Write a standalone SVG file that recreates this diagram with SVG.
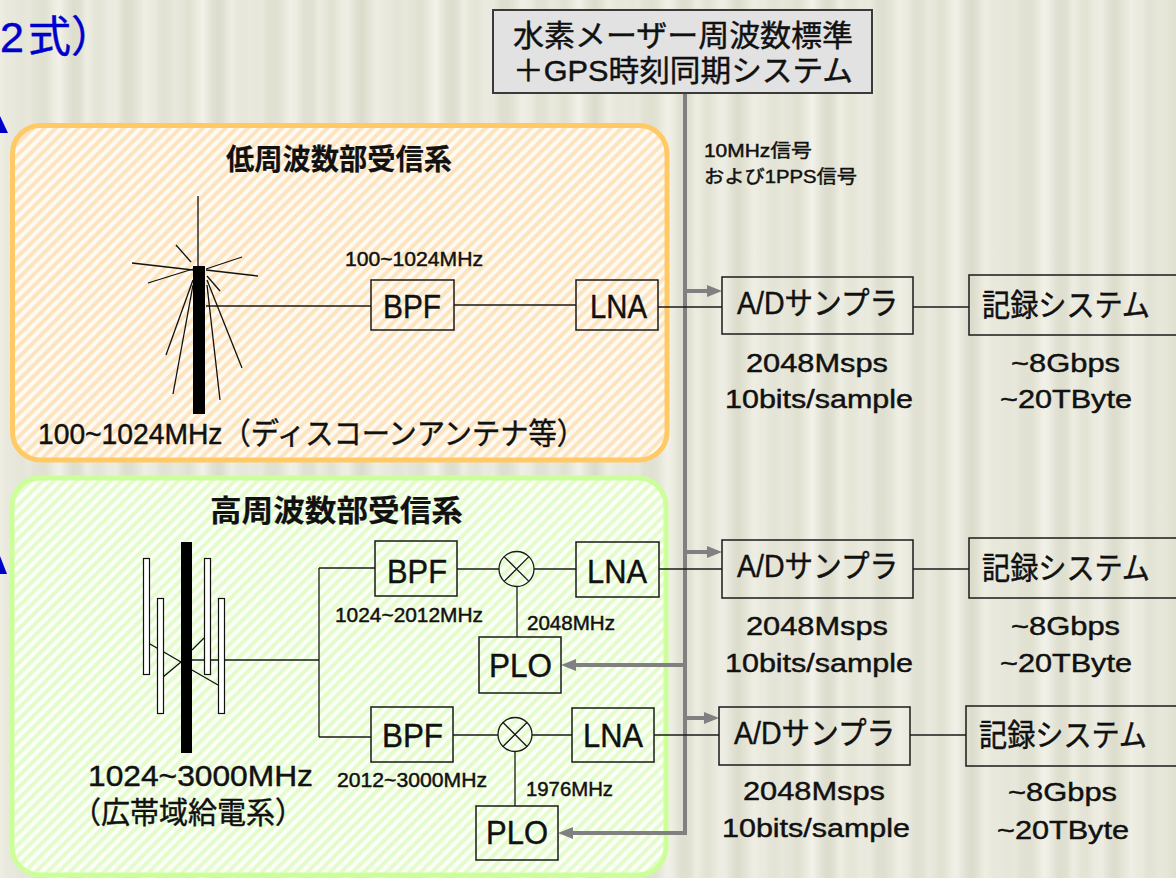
<svg xmlns="http://www.w3.org/2000/svg" width="1176" height="878" viewBox="0 0 1176 878">
  <defs>
    <style>
      .t { font-family: "Liberation Sans", "Noto Sans CJK JP", sans-serif; fill: #111; stroke: #111; stroke-width: 0.45; }
      .hd { font-weight: 700; stroke-width: 0.2; }
      .box { fill: none; stroke: #1a1a1a; stroke-width: 1.5; }
      .wire { fill: none; stroke: #1a1a1a; stroke-width: 1.3; }
      .sig { fill: none; stroke: #808080; stroke-width: 4; }
      .mix { fill: none; stroke: #1a1a1a; stroke-width: 1.3; }
    </style>
    <pattern id="hatchOrange" width="8" height="8" patternUnits="userSpaceOnUse" patternTransform="rotate(45)">
      <rect width="8" height="8" fill="#fffaf1"/>
      <rect width="4" height="8" fill="#fde4c0"/>
    </pattern>
    <pattern id="hatchGreen" width="8" height="8" patternUnits="userSpaceOnUse" patternTransform="rotate(45)">
      <rect width="8" height="8" fill="#fbfff6"/>
      <rect width="4" height="8" fill="#e4fbce"/>
    </pattern>
    <linearGradient id="streakA" gradientUnits="userSpaceOnUse" x1="0" y1="0" x2="29" y2="0" spreadMethod="repeat">
      <stop offset="0" stop-color="#ffffff" stop-opacity="0.3"/>
      <stop offset="0.5" stop-color="#c4c4b0" stop-opacity="0.18"/>
      <stop offset="1" stop-color="#ffffff" stop-opacity="0.3"/>
    </linearGradient>
    <linearGradient id="streakB" gradientUnits="userSpaceOnUse" x1="0" y1="0" x2="47" y2="0" spreadMethod="repeat">
      <stop offset="0" stop-color="#ffffff" stop-opacity="0"/>
      <stop offset="0.3" stop-color="#ffffff" stop-opacity="0.25"/>
      <stop offset="0.7" stop-color="#b8b8a4" stop-opacity="0.12"/>
      <stop offset="1" stop-color="#ffffff" stop-opacity="0"/>
    </linearGradient>
    <marker id="arrowGray" markerUnits="userSpaceOnUse" markerWidth="16" markerHeight="14" refX="5" refY="6" orient="auto">
      <path d="M0,0 L15,6 L0,12 Z" fill="#808080"/>
    </marker>
  </defs>

  <!-- paper background -->
  <rect width="1176" height="878" fill="#e7e7d8"/>
  <rect width="1176" height="878" fill="url(#streakA)"/>
  <rect width="1176" height="878" fill="url(#streakB)"/>

  <!-- heading fragment and bullets -->
  <text class="t" x="0" y="52" font-size="43" style="fill:#0000cc;stroke:#0000cc">2<tspan dx="4">式）</tspan></text>
  <polygon points="0,116 8,133 0,133" fill="#0000cc"/>
  <polygon points="0,556 7,574 0,574" fill="#0000cc"/>

  <!-- receiver panels -->
  <g id="panel-low">
    <rect x="12.5" y="125.5" width="654.5" height="334.5" rx="28" fill="url(#hatchOrange)" stroke="#ffc966" stroke-width="5"/>
    <text class="t hd" x="226" y="170" font-size="29" textLength="226" lengthAdjust="spacingAndGlyphs">低周波数部受信系</text>
    <text class="t" x="38" y="444" font-size="30" textLength="547" lengthAdjust="spacingAndGlyphs">100~1024MHz（ディスコーンアンテナ等）</text>
  </g>
  <g id="panel-high">
    <rect x="12" y="478" width="654" height="397" rx="28" fill="url(#hatchGreen)" stroke="#ccff99" stroke-width="5"/>
    <text class="t hd" x="210" y="521" font-size="30" textLength="253" lengthAdjust="spacingAndGlyphs">高周波数部受信系</text>
    <text class="t" x="88" y="786" font-size="30" textLength="225" lengthAdjust="spacingAndGlyphs">1024~3000MHz</text>
    <text class="t" x="72" y="823" font-size="30" textLength="232" lengthAdjust="spacingAndGlyphs">（広帯域給電系）</text>
  </g>

  <!-- connectors -->
  <g id="connectors">
    <!-- reference distribution -->
    <path class="sig" d="M685,93 V833 H568" marker-end="url(#arrowGray)"/>
    <path class="sig" d="M685,291 H712" marker-end="url(#arrowGray)"/>
    <path class="sig" d="M685,552 H712" marker-end="url(#arrowGray)"/>
    <path class="sig" d="M685,718 H709" marker-end="url(#arrowGray)"/>
    <path class="sig" d="M685,665 H571" marker-end="url(#arrowGray)"/>
    <!-- low band chain -->
    <path class="wire" d="M206,306 H371"/>
    <path class="wire" d="M454,305 H576"/>
    <path class="wire" d="M658,307 H722"/>
    <path class="wire" d="M913,307 H969"/>
    <!-- high band split -->
    <path class="wire" d="M192,660 H319"/>
    <path class="wire" d="M319,568 V737"/>
    <path class="wire" d="M319,568 H375"/>
    <path class="wire" d="M319,737 H371"/>
    <!-- upper high branch -->
    <path class="wire" d="M457,569 H499"/>
    <path class="wire" d="M534,569 H576"/>
    <path class="wire" d="M659,569 H722"/>
    <path class="wire" d="M913,569 H969"/>
    <path class="wire" d="M517,586.5 V637"/>
    <!-- lower high branch -->
    <path class="wire" d="M453,735 H498"/>
    <path class="wire" d="M532,735 H572"/>
    <path class="wire" d="M654,735 H719"/>
    <path class="wire" d="M910,735 H966"/>
    <path class="wire" d="M515,752 V806"/>
  </g>

  <!-- reference source -->
  <g id="ref-source">
    <rect x="493" y="10" width="379" height="83" fill="#e2e2e2" stroke="#3a3a3a" stroke-width="2"/>
    <text class="t" x="513" y="46" font-size="30" textLength="340" lengthAdjust="spacingAndGlyphs">水素メーザー周波数標準</text>
    <text class="t" x="513" y="81" font-size="30" textLength="340" lengthAdjust="spacingAndGlyphs">＋GPS時刻同期システム</text>
  </g>
  <g id="ref-label">
    <text class="t" x="704" y="157" font-size="18" textLength="108" lengthAdjust="spacingAndGlyphs">10MHz信号</text>
    <text class="t" x="704" y="183" font-size="18" textLength="153" lengthAdjust="spacingAndGlyphs">および1PPS信号</text>
  </g>

  <!-- discone antenna -->
  <g id="antenna-discone" stroke="#111" stroke-width="1.3">
    <line x1="198" y1="196" x2="198" y2="266"/>
    <line x1="132" y1="263" x2="193" y2="270"/>
    <line x1="206" y1="270" x2="258" y2="276"/>
    <line x1="148" y1="283" x2="193" y2="269"/>
    <line x1="206" y1="269" x2="242" y2="257"/>
    <line x1="176" y1="245" x2="191" y2="262"/>
    <line x1="207" y1="276" x2="220" y2="291"/>
    <line x1="193" y1="280" x2="166" y2="355"/>
    <line x1="193" y1="285" x2="173" y2="394"/>
    <line x1="207" y1="280" x2="242" y2="368"/>
    <line x1="207" y1="285" x2="220" y2="400"/>
    <rect x="193" y="266" width="12" height="148" fill="#000" stroke="none"/>
  </g>

  <!-- broadband antenna -->
  <g id="antenna-broadband" stroke="#111" stroke-width="1.3">
    <line x1="150" y1="644" x2="181" y2="662"/>
    <line x1="163" y1="677" x2="181" y2="662"/>
    <line x1="192" y1="650" x2="204" y2="638"/>
    <line x1="192" y1="670" x2="218" y2="685"/>
    <rect x="143.5" y="558.5" width="6" height="116" fill="#fff" stroke-width="1.2"/>
    <rect x="157.5" y="598.5" width="6" height="115" fill="#fff" stroke-width="1.2"/>
    <rect x="204.5" y="558.5" width="6" height="116" fill="#fff" stroke-width="1.2"/>
    <rect x="218.5" y="598.5" width="6" height="115" fill="#fff" stroke-width="1.2"/>
    <rect x="181" y="542" width="11" height="211" fill="#000" stroke="none"/>
  </g>

  <!-- low band blocks -->
  <g id="bpf-low">
    <rect class="box" x="371" y="280" width="83" height="50"/>
    <text class="t" x="383" y="318" font-size="34" textLength="58" lengthAdjust="spacingAndGlyphs">BPF</text>
    <text class="t" x="345" y="266" font-size="20" textLength="138" lengthAdjust="spacingAndGlyphs">100~1024MHz</text>
  </g>
  <g id="lna-low">
    <rect class="box" x="576" y="280" width="82" height="50"/>
    <text class="t" x="590" y="318" font-size="34" textLength="57" lengthAdjust="spacingAndGlyphs">LNA</text>
  </g>

  <!-- upper high band blocks -->
  <g id="bpf-high1">
    <rect class="box" x="375" y="541" width="82" height="55"/>
    <text class="t" x="387" y="583" font-size="34" textLength="60" lengthAdjust="spacingAndGlyphs">BPF</text>
    <text class="t" x="335" y="622" font-size="20" textLength="148" lengthAdjust="spacingAndGlyphs">1024~2012MHz</text>
  </g>
  <g id="mixer-high1">
    <circle class="mix" cx="516.5" cy="569" r="17.5"/>
    <path class="mix" d="M504.1,556.6 L528.9,581.4 M528.9,556.6 L504.1,581.4"/>
  </g>
  <g id="lna-high1">
    <rect class="box" x="576" y="542" width="83" height="55"/>
    <text class="t" x="587" y="583" font-size="34" textLength="60" lengthAdjust="spacingAndGlyphs">LNA</text>
  </g>
  <g id="plo-high1">
    <rect class="box" x="479" y="637" width="82" height="56"/>
    <text class="t" x="489" y="677" font-size="34" textLength="63" lengthAdjust="spacingAndGlyphs">PLO</text>
    <text class="t" x="527" y="630" font-size="20" textLength="88" lengthAdjust="spacingAndGlyphs">2048MHz</text>
  </g>

  <!-- lower high band blocks -->
  <g id="bpf-high2">
    <rect class="box" x="371" y="707" width="82" height="55"/>
    <text class="t" x="382" y="747" font-size="34" textLength="61" lengthAdjust="spacingAndGlyphs">BPF</text>
    <text class="t" x="337" y="787" font-size="20" textLength="150" lengthAdjust="spacingAndGlyphs">2012~3000MHz</text>
  </g>
  <g id="mixer-high2">
    <circle class="mix" cx="515" cy="734.5" r="17"/>
    <path class="mix" d="M503,722.5 L527,746.5 M527,722.5 L503,746.5"/>
  </g>
  <g id="lna-high2">
    <rect class="box" x="572" y="708" width="82" height="54"/>
    <text class="t" x="583" y="747" font-size="34" textLength="60" lengthAdjust="spacingAndGlyphs">LNA</text>
  </g>
  <g id="plo-high2">
    <rect class="box" x="476" y="806" width="82" height="54"/>
    <text class="t" x="486" y="844" font-size="34" textLength="62" lengthAdjust="spacingAndGlyphs">PLO</text>
    <text class="t" x="526" y="796" font-size="20" textLength="87" lengthAdjust="spacingAndGlyphs">1976MHz</text>
  </g>

  <!-- sampler and recorder, row 1 -->
  <g id="adc-1">
    <rect class="box" x="722" y="277" width="191" height="57"/>
    <text class="t" x="737" y="314" font-size="31" textLength="161" lengthAdjust="spacingAndGlyphs">A/Dサンプラ</text>
    <text class="t" x="746" y="372" font-size="26" textLength="142" lengthAdjust="spacingAndGlyphs">2048Msps</text>
    <text class="t" x="725" y="408" font-size="26" textLength="188" lengthAdjust="spacingAndGlyphs">10bits/sample</text>
  </g>
  <g id="recorder-1">
    <rect class="box" x="969" y="275" width="220" height="60"/>
    <text class="t" x="982" y="316" font-size="31" textLength="168" lengthAdjust="spacingAndGlyphs">記録システム</text>
    <text class="t" x="1011" y="372" font-size="26" textLength="109" lengthAdjust="spacingAndGlyphs">~8Gbps</text>
    <text class="t" x="1000" y="408" font-size="26" textLength="132" lengthAdjust="spacingAndGlyphs">~20TByte</text>
  </g>

  <!-- sampler and recorder, row 2 -->
  <g id="adc-2">
    <rect class="box" x="722" y="540" width="191" height="58"/>
    <text class="t" x="737" y="577" font-size="31" textLength="161" lengthAdjust="spacingAndGlyphs">A/Dサンプラ</text>
    <text class="t" x="746" y="635" font-size="26" textLength="142" lengthAdjust="spacingAndGlyphs">2048Msps</text>
    <text class="t" x="725" y="672" font-size="26" textLength="188" lengthAdjust="spacingAndGlyphs">10bits/sample</text>
  </g>
  <g id="recorder-2">
    <rect class="box" x="969" y="538" width="220" height="60"/>
    <text class="t" x="982" y="579" font-size="31" textLength="168" lengthAdjust="spacingAndGlyphs">記録システム</text>
    <text class="t" x="1011" y="635" font-size="26" textLength="109" lengthAdjust="spacingAndGlyphs">~8Gbps</text>
    <text class="t" x="1000" y="672" font-size="26" textLength="132" lengthAdjust="spacingAndGlyphs">~20TByte</text>
  </g>

  <!-- sampler and recorder, row 3 -->
  <g id="adc-3">
    <rect class="box" x="719" y="707" width="191" height="58"/>
    <text class="t" x="734" y="744" font-size="31" textLength="161" lengthAdjust="spacingAndGlyphs">A/Dサンプラ</text>
    <text class="t" x="743" y="800" font-size="26" textLength="142" lengthAdjust="spacingAndGlyphs">2048Msps</text>
    <text class="t" x="722" y="837" font-size="26" textLength="188" lengthAdjust="spacingAndGlyphs">10bits/sample</text>
  </g>
  <g id="recorder-3">
    <rect class="box" x="966" y="706" width="220" height="60"/>
    <text class="t" x="979" y="746" font-size="31" textLength="168" lengthAdjust="spacingAndGlyphs">記録システム</text>
    <text class="t" x="1008" y="801" font-size="26" textLength="109" lengthAdjust="spacingAndGlyphs">~8Gbps</text>
    <text class="t" x="997" y="839" font-size="26" textLength="132" lengthAdjust="spacingAndGlyphs">~20TByte</text>
  </g>
</svg>
